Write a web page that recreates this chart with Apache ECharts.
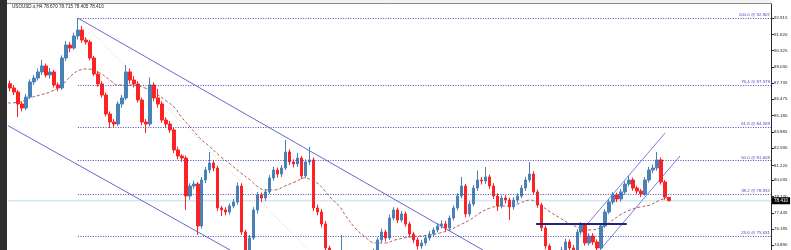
<!DOCTYPE html>
<html><head><meta charset="utf-8">
<script src="https://cdn.jsdelivr.net/npm/echarts@6/dist/echarts.min.js"></script>
<style>html,body{margin:0;padding:0;background:#fff}#c{width:791px;height:250px}</style>
</head><body><div id="c"></div><script>
// ---------- data ----------
const symbol = 'USOUSD.s,H4';
const slotCount = 191; // category slots (candles + empty right shift)
const opens = [87.70,87.36,87.04,86.09,85.77,86.64,87.84,88.15,88.63,89.11,
88.39,88.63,87.60,87.36,89.74,90.77,90.53,91.49,91.96,91.17,
91.01,89.74,88.47,87.68,86.80,85.30,84.66,84.50,86.09,86.57,
88.63,87.99,87.68,86.41,84.66,84.50,87.60,86.57,86.09,84.82,
84.50,84.03,82.44,81.96,81.80,78.79,79.58,79.74,76.41,80.06,
80.85,81.41,81.01,77.84,77.68,77.52,77.99,78.31,79.58,75.93,
74.34,75.46,77.68,78.87,78.63,79.11,80.22,80.85,80.53,81.01,
82.28,81.49,81.33,81.80,80.38,81.49,81.65,77.84,77.52,76.57,
74.66,74.03,73.87,73.55,74.11,73.71,73.31,73.55,73.07,73.39,
73.71,73.87,74.34,75.30,75.93,75.46,77.04,77.68,76.88,77.36,
76.57,75.77,75.30,74.82,75.06,75.46,75.77,76.09,76.41,76.57,
76.25,77.04,77.84,78.79,79.58,77.36,78.15,79.42,80.06,79.98,
80.30,79.58,78.79,77.99,78.63,78.47,77.92,78.47,78.79,79.42,
80.06,80.53,79.11,78.07,76.25,74.82,74.11,73.87,74.03,74.50,
75.14,74.66,74.34,75.93,76.49,75.06,75.61,75.14,74.66,76.41,
77.52,78.31,78.87,78.55,79.11,79.74,80.06,79.42,79.18,78.95,
80.06,80.85,81.01,81.65,79.90,78.670];
const closes = [87.36,87.04,86.09,85.77,86.64,87.84,88.15,88.63,89.11,88.39,
88.63,87.60,87.36,89.74,90.77,90.53,91.49,91.96,91.17,91.01,
89.74,88.47,87.68,86.80,85.30,84.66,84.50,86.09,86.57,88.63,
87.99,87.68,86.41,84.66,84.50,87.60,86.57,86.09,84.82,84.50,
84.03,82.44,81.96,81.80,78.79,79.58,79.74,76.41,80.06,80.85,
81.41,81.01,77.84,77.68,77.52,77.99,78.31,79.58,75.93,74.34,
75.46,77.68,78.87,78.63,79.11,80.22,80.85,80.53,81.01,82.28,
81.49,81.33,81.80,80.38,81.49,81.65,77.84,77.52,76.57,74.66,
74.03,73.87,73.55,74.11,73.71,73.31,73.55,73.07,73.39,73.71,
73.87,74.34,75.30,75.93,75.46,77.04,77.68,76.88,77.36,76.57,
75.77,75.30,74.82,75.06,75.46,75.77,76.09,76.41,76.57,76.25,
77.04,77.84,78.79,79.58,77.36,78.15,79.42,80.06,79.98,80.30,
79.58,78.79,77.99,78.63,78.47,77.92,78.47,78.79,79.42,80.06,
80.53,79.11,78.07,76.25,74.82,74.11,73.87,74.03,74.50,75.14,
74.66,74.34,75.93,76.49,75.06,75.61,75.14,74.66,76.41,77.52,
78.31,78.87,78.55,79.11,79.74,80.06,79.42,79.18,78.95,80.06,
80.85,81.01,81.65,79.90,78.70,78.410];
const lows = [87.10,86.80,85.06,85.50,85.60,86.50,87.60,87.95,88.40,88.20,
88.10,87.40,87.10,87.20,89.50,90.20,90.40,91.20,90.95,90.80,
89.55,88.30,87.45,86.60,85.10,84.19,84.25,84.35,85.80,86.40,
87.70,87.40,86.20,84.40,83.79,84.30,86.30,85.80,84.60,84.20,
83.80,82.20,81.70,81.50,77.68,78.50,79.35,75.69,76.20,79.80,
80.60,80.75,77.60,77.20,77.25,77.30,77.80,78.10,75.70,74.00,
74.10,75.30,77.40,78.30,78.40,78.95,80.00,80.25,80.30,80.85,
81.25,81.05,81.10,80.15,80.20,81.25,77.60,77.25,76.30,74.40,
73.75,73.60,73.30,73.35,73.45,73.05,73.10,72.80,70.29,73.20,
73.50,73.70,74.20,75.10,75.20,75.30,76.85,76.65,76.70,76.35,
75.55,75.05,74.55,74.60,74.85,75.25,75.55,75.90,76.20,76.00,
76.05,76.85,77.65,78.60,77.10,77.15,77.95,79.20,79.70,79.75,
79.35,78.55,77.60,77.80,78.20,76.88,77.70,78.25,78.60,79.20,
79.85,78.90,77.85,76.00,74.55,73.85,73.60,73.65,73.80,74.30,
74.45,74.10,74.20,75.70,74.85,74.85,74.90,74.40,74.50,76.25,
77.35,78.10,78.30,78.35,78.90,79.55,79.20,78.95,78.70,78.80,
79.85,80.60,80.80,79.70,78.50,78.405];
const highs = [87.95,87.60,87.20,86.30,86.90,88.05,88.40,88.90,89.58,89.30,
88.95,88.80,87.80,89.95,91.10,91.00,91.75,92.91,92.30,91.40,
91.20,89.90,88.70,87.90,87.00,85.50,84.90,86.30,86.80,89.18,
88.90,88.30,87.90,86.60,84.90,88.20,87.80,87.30,86.30,85.05,
84.75,84.20,82.70,82.10,82.00,79.80,80.00,79.90,80.30,81.10,
82.28,81.65,81.20,78.00,77.90,78.20,78.55,79.85,79.80,76.10,
75.70,77.90,79.10,79.05,79.35,80.45,81.10,81.05,81.25,83.23,
82.50,81.70,82.20,81.95,81.70,82.68,81.85,78.10,77.75,76.80,
74.85,74.20,74.10,75.69,74.30,73.95,73.80,73.75,73.65,74.00,
74.10,74.60,75.50,76.20,76.10,77.30,77.90,77.85,77.60,77.55,
76.75,75.95,75.50,75.30,75.70,76.00,76.30,76.65,76.85,76.80,
77.25,78.05,79.00,80.30,79.75,78.40,79.65,80.80,80.30,81.09,
80.50,79.80,79.00,78.85,78.85,78.65,78.70,79.00,79.65,80.30,
81.49,80.75,79.30,78.25,76.45,75.00,74.30,74.30,74.75,75.40,
75.35,74.90,76.15,76.72,76.65,75.85,75.85,75.35,76.60,77.75,
78.55,79.10,79.05,79.35,79.95,80.40,80.25,79.60,79.35,80.30,
81.10,81.30,82.28,81.85,80.05,78.715];

// moving average knots: bar position / value
const maPos = [0,3,5.5,8,10.5,12.5,14.3,16,18,20,23,25.5,27.5,30.5,34.3,36.8,39.3,41.8,43,45.6,48,50.6,53,55.6,58,60.6,62.6,64.3,66.8,69.3,71.8,74.3,76,78,80.6,83.1,84.4,86.9,89.4,91.9,94.4,96.9,100.6,105.6,108.1,110.6,113.1,115.6,118.1,120.7,123.2,125.7,128.2,130.7,133.2,135.7,138.2,140.7,143.2,145.7,148.2,150.7,153.2,155.7,158.2,160.7,163.2,165.2];
const maVal = [86.17,86.25,86.57,86.80,87.04,87.36,87.84,88.39,88.79,88.87,88.55,87.99,87.60,87.60,87.36,86.96,86.41,85.77,85.22,84.26,83.39,82.68,81.96,81.33,80.69,80.06,79.50,79.27,79.27,79.58,79.90,80.22,80.06,79.66,78.71,77.92,77.28,76.25,75.53,75.06,75.06,75.30,75.53,75.69,75.85,76.09,76.49,76.88,77.44,77.84,77.99,77.99,78.23,78.47,78.07,77.52,77.04,76.57,76.25,76.09,76.25,76.72,77.28,77.68,77.92,78.07,78.47,78.63];

// fibonacci retracement
const fibRatios = ['100.0','76.4','61.8','50.0','38.2','23.6'];
const fibPrices = [92.907,87.579,84.269,81.609,78.932,75.631];
const fibStartPos = 17.5;
const fibTrendPos = [17.5, 88.5];
const fibTrendVal = [92.907, 70.29];

// drawn objects (bar position / price)
const chanUpperPos = [17.5, 118.9];   const chanUpperVal = [92.907, 74.50];
const chanLowerPos = [0, 55.6];       const chanLowerVal = [84.37, 74.50];
const upChanAPos = [144.4, 164.5];    const upChanAVal = [76.33, 83.79];
const upChanBPos = [148.2, 168.2];    const upChanBVal = [74.50, 81.96];
const hLinePos = [132.2, 154.9];      const hLineVal = [76.57, 76.57];

const yTicks = [92.915,91.620,90.325,89.030,87.735,86.475,85.180,83.885,82.590,81.220,80.035,78.740,77.445,76.185,74.890];
const yRange = [74.502, 94.026];

// ---------- chart ----------
const categories = Array.from({length: slotCount}, (_, i) => String(i + 1));
const candleData = opens.map((o, i) => [o, closes[i], lows[i], highs[i]]);
const last = candleData.length - 1;
const lastPrice = closes[last];
const FONT = '"Liberation Sans", Arial, sans-serif';
const fibColor = '#4848c0';
const pair = (p, v) => p.map((x, i) => [x, v[i]]);

function seg(name, pos, val, color, width, type, z) {
  return {name, type: 'line', xAxisIndex: 1, yAxisIndex: 0, data: pair(pos, val),
    symbol: 'none', silent: true, z: z || 3,
    lineStyle: {color, width, type: type || 'solid'}};
}

const chart = echarts.init(document.getElementById('c'));
chart.setOption({
  animation: false,
  backgroundColor: '#ffffff',
  title: {
    text: symbol + ' ' + opens[last].toFixed(3) + ' ' + highs[last].toFixed(3) + ' ' + lows[last].toFixed(3) + ' ' + closes[last].toFixed(3),
    left: 12, top: 4, padding: 0,
    textStyle: {fontSize: 4.6, fontWeight: 'normal', color: '#1a1a1a', fontFamily: FONT}
  },
  grid: {left: 8, right: 20, top: 4, bottom: 0, containLabel: false, outerBoundsMode: 'none'},
  xAxis: [
    {type: 'category', data: categories, boundaryGap: true, show: false},
    {type: 'value', min: 0, max: slotCount, show: false}
  ],
  yAxis: {
    type: 'value', position: 'right', min: yRange[0], max: yRange[1],
    axisLine: {show: true, onZero: false, lineStyle: {color: '#2a2a2a', width: 1}},
    axisTick: {show: true, length: 3, customValues: yTicks, lineStyle: {color: '#2a2a2a'}},
    axisLabel: {show: true, customValues: yTicks, formatter: v => Number(v).toFixed(3),
      fontSize: 4.4, color: '#222', margin: 3, fontFamily: FONT},
    splitLine: {show: false}
  },
  graphic: [
    {type: 'rect', shape: {x: 0, y: 0, width: 7, height: 250}, style: {fill: '#2e2e2e'}, z: 100},
    {type: 'rect', shape: {x: 7, y: 0, width: 765, height: 3}, style: {fill: '#f2f2f2'}, z: 100},
    {type: 'line', shape: {x1: 7, y1: 3.5, x2: 772, y2: 3.5}, style: {stroke: '#8a8a8a', lineWidth: 1}, z: 100}
  ],
  series: [
    {
      name: 'price', type: 'line', xAxisIndex: 1, yAxisIndex: 0,
      data: [[0, lastPrice], [slotCount, lastPrice]], symbol: 'none', silent: true, z: 1,
      lineStyle: {color: '#cfeaf3', width: 1.5},
      endLabel: {show: true, formatter: () => lastPrice.toFixed(3), backgroundColor: '#000', color: '#fff',
        fontSize: 4.6, fontFamily: FONT, padding: [1, 2, 1, 2], distance: 1}
    },
    {
      name: 'fib', type: 'line', xAxisIndex: 1, yAxisIndex: 0, data: [], silent: true, z: 2,
      markLine: {
        symbol: 'none', silent: true, animation: false,
        lineStyle: {color: fibColor, width: 1, type: [1, 1.5]},
        data: fibPrices.map((p, i) => [
          {coord: [fibStartPos, p], label: {show: true, position: 'insideEndTop', distance: [1, 1],
            formatter: fibRatios[i] + ' @ ' + p.toFixed(3), fontSize: 4.4, color: fibColor, fontFamily: FONT}},
          {coord: [slotCount, p]}
        ])
      }
    },
    seg('fibTrend', fibTrendPos, fibTrendVal, '#ecc4c4', 1, [1, 2], 2),
    seg('chanUpper', chanUpperPos, chanUpperVal, '#6868cc', 1),
    seg('chanLower', chanLowerPos, chanLowerVal, '#6868cc', 1),
    seg('upChanA', upChanAPos, upChanAVal, '#7c7ce6', 1),
    seg('upChanB', upChanBPos, upChanBVal, '#7c7ce6', 1),
    {
      name: 'MA', type: 'line', xAxisIndex: 1, yAxisIndex: 0, data: pair(maPos, maVal),
      symbol: 'none', smooth: 0.4, silent: true, z: 2,
      lineStyle: {color: '#b4605c', width: 1, type: [3, 2]}
    },
    {
      name: 'candles', type: 'candlestick', xAxisIndex: 0, yAxisIndex: 0, data: candleData,
      barWidth: 3, clip: true, z: 4,
      itemStyle: {color: '#4a82b8', color0: '#ff2222', borderColor: '#4a82b8', borderColor0: '#ff2222', borderWidth: 1}
    },
    seg('hLine', hLinePos, hLineVal, '#24247e', 2, 'solid', 5)
  ]
});
</script></body></html>
